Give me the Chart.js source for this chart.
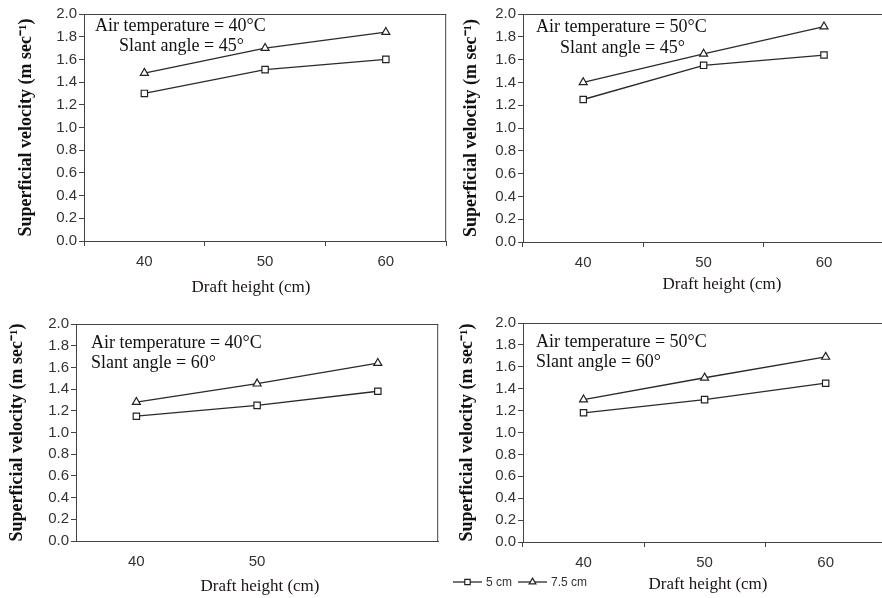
<!DOCTYPE html>
<html><head><meta charset="utf-8">
<script src="https://cdn.jsdelivr.net/npm/chart.js@4/dist/chart.umd.min.js"></script>
<style>
html,body{margin:0;padding:0;background:#fff;overflow:hidden;width:882px;height:598px;position:relative}
.panel{position:absolute}
canvas{display:block}
</style></head><body>
<div class="panel" style="left:0px;top:0px"><canvas id="c1"></canvas></div>
<div class="panel" style="left:440px;top:0px"><canvas id="c2"></canvas></div>
<div class="panel" style="left:0px;top:300px"><canvas id="c3"></canvas></div>
<div class="panel" style="left:440px;top:300px"><canvas id="c4"></canvas></div>
<script>
// ---- data ----
const draftHeights = ['40', '50', '60'];
const xTickLabelsFull = ['40', '50', '60'];
const xTickLabelsP3 = ['40', '50', ''];
const seriesNames = ['5 cm', '7.5 cm'];
const yMin = 0, yMax = 2.0, yStep = 0.2;

const v5_T40_A45  = [1.30, 1.51, 1.60];
const v75_T40_A45 = [1.48, 1.70, 1.84];
const v5_T50_A45  = [1.25, 1.55, 1.64];
const v75_T50_A45 = [1.40, 1.65, 1.89];
const v5_T40_A60  = [1.15, 1.25, 1.38];
const v75_T40_A60 = [1.28, 1.45, 1.64];
const v5_T50_A60  = [1.18, 1.30, 1.45];
const v75_T50_A60 = [1.30, 1.50, 1.69];

const notesP1 = ['Air temperature = 40°C', 'Slant angle = 45°'];
const notesP2 = ['Air temperature = 50°C', 'Slant angle = 45°'];
const notesP3 = ['Air temperature = 40°C', 'Slant angle = 60°'];
const notesP4 = ['Air temperature = 50°C', 'Slant angle = 60°'];
const yTitle = 'Superficial velocity (m sec⁻¹)';
const xTitle = 'Draft height (cm)';

// ---- styling ----
const SANS = "'Liberation Sans', Arial, sans-serif";
const SERIF = "'Liberation Serif', 'Times New Roman', serif";
const AXIS = '#444';
const LINE = '#2a2a2a';

const decoPlugin = {
  id: 'deco',
  beforeDatasetsDraw(chart, args, o) {
    const {ctx, chartArea: a} = chart;
    ctx.save();
    ctx.strokeStyle = AXIS; ctx.lineWidth = 1;
    ctx.beginPath();
    ctx.moveTo(a.left, a.top + 0.5); ctx.lineTo(a.right, a.top + 0.5);
    ctx.moveTo(a.right - 0.5, a.top); ctx.lineTo(a.right - 0.5, a.bottom);
    ctx.stroke();
    ctx.restore();
  },
  afterDraw(chart, args, o) {
    const {ctx} = chart;
    ctx.save();
    ctx.fillStyle = '#111';
    ctx.textBaseline = 'alphabetic';
    ctx.textAlign = 'left';
    ctx.font = '18px ' + SERIF;
    o.notes.forEach((t, i) => ctx.fillText(t, o.notePos[i][0], o.notePos[i][1]));
    ctx.font = '17px ' + SERIF;
    ctx.textAlign = 'center';
    ctx.textBaseline = 'middle';
    ctx.fillStyle = '#1a1414';
    ctx.fillText(xTitle, o.xTitlePos[0], o.xTitlePos[1]);
    if (o.legend) {
      const [lx, ly] = o.legend;
      let x = lx;
      ctx.font = '12px ' + SANS;
      ctx.textAlign = 'left';
      chart.data.datasets.forEach((ds) => {
        ctx.strokeStyle = ds.borderColor; ctx.lineWidth = ds.borderWidth;
        ctx.beginPath(); ctx.moveTo(x, ly); ctx.lineTo(x + 29, ly); ctx.stroke();
        ctx.fillStyle = '#fff';
        ctx.strokeStyle = ds.pointBorderColor; ctx.lineWidth = ds.pointBorderWidth;
        Chart.helpers.drawPoint(ctx, {pointStyle: ds.pointStyle, rotation: 0,
          radius: ds.pointRadius * 0.85, borderWidth: ds.pointBorderWidth}, x + 14.5, ly);
        ctx.fillStyle = '#333';
        ctx.textBaseline = 'middle';
        ctx.fillText(ds.label, x + 33, ly + 1);
        x += 33 + ctx.measureText(ds.label).width + 6;
      });
    }
    ctx.restore();
  }
};

function makePanel(id, g, s5, s75, tickLabels, notes, showXTicks) {
  const cv = document.getElementById(id);
  cv.width = g.W; cv.height = g.H;
  cv.style.width = g.W + 'px'; cv.style.height = g.H + 'px';
  new Chart(cv, {
    type: 'line',
    data: {
      labels: draftHeights,
      datasets: [
        {label: seriesNames[0], data: s5, borderColor: LINE, borderWidth: 1.3,
         pointStyle: 'rect', pointRadius: 4.5, pointBackgroundColor: '#fff',
         pointBorderColor: '#222', pointBorderWidth: 1.2, tension: 0, fill: false},
        {label: seriesNames[1], data: s75, borderColor: LINE, borderWidth: 1.3,
         pointStyle: 'triangle', pointRadius: 4.6, pointBackgroundColor: '#fff',
         pointBorderColor: '#222', pointBorderWidth: 1.2, tension: 0, fill: false}
      ]
    },
    options: {
      responsive: false, animation: false, devicePixelRatio: 1,
      layout: {padding: {top: g.top, right: g.right, left: 0, bottom: 0}},
      plugins: {
        legend: {display: false}, tooltip: {enabled: false},
        deco: {notes: notes, notePos: g.notePos, xTitlePos: g.xTitlePos, legend: g.legend}
      },
      scales: {
        x: {
          type: 'category', offset: true,
          grid: {offset: true, drawOnChartArea: false, tickLength: 5, color: AXIS,
                 tickColor: showXTicks ? AXIS : 'rgba(0,0,0,0)'},
          border: {color: AXIS, width: 1},
          ticks: {font: {family: SANS, size: 15}, color: '#333', padding: 7,
                  maxRotation: 0, callback: (v, i) => tickLabels[i]},
          afterFit: (s) => { s.height = g.H - g.bottom; }
        },
        y: {
          min: yMin, max: yMax,
          grid: {drawOnChartArea: false, tickLength: 5, color: AXIS},
          border: {color: AXIS, width: 1},
          ticks: {stepSize: yStep, font: {family: SANS, size: 15}, color: '#333', padding: 2,
                  callback: (v) => Number(v).toFixed(1)},
          title: {display: true, text: yTitle, color: '#111',
                  font: {family: SERIF, size: 18, weight: 'bold'},
                  padding: {top: g.yTitlePad, bottom: 0}},
          afterFit: (s) => { s.width = g.yW; }
        }
      }
    },
    plugins: [decoPlugin]
  });
}

// geometry (canvas-relative pixels)
makePanel('c1', {W: 452, H: 300, top: 14, right: 2, bottom: 241, yW: 84, yTitlePad: 16,
  notePos: [[95, 31], [119, 51]], xTitlePos: [251, 288]},
  v5_T40_A45, v75_T40_A45, xTickLabelsFull, notesP1, true);
makePanel('c2', {W: 450, H: 300, top: 14, right: 2, bottom: 242, yW: 83, yTitlePad: 21,
  notePos: [[96, 32], [120, 53]], xTitlePos: [282, 285]},
  v5_T50_A45, v75_T50_A45, xTickLabelsFull, notesP2, true);
makePanel('c3', {W: 444, H: 298, top: 24, right: 1, bottom: 241, yW: 76, yTitlePad: 7,
  notePos: [[91, 48], [91, 68]], xTitlePos: [260, 287]},
  v5_T40_A60, v75_T40_A60, xTickLabelsP3, notesP3, false);
makePanel('c4', {W: 452, H: 298, top: 23, right: 0, bottom: 242, yW: 83, yTitlePad: 17,
  notePos: [[96, 47], [96, 67]], xTitlePos: [268, 285], legend: [13, 282]},
  v5_T50_A60, v75_T50_A60, xTickLabelsFull, notesP4, true);
</script>
</body></html>
